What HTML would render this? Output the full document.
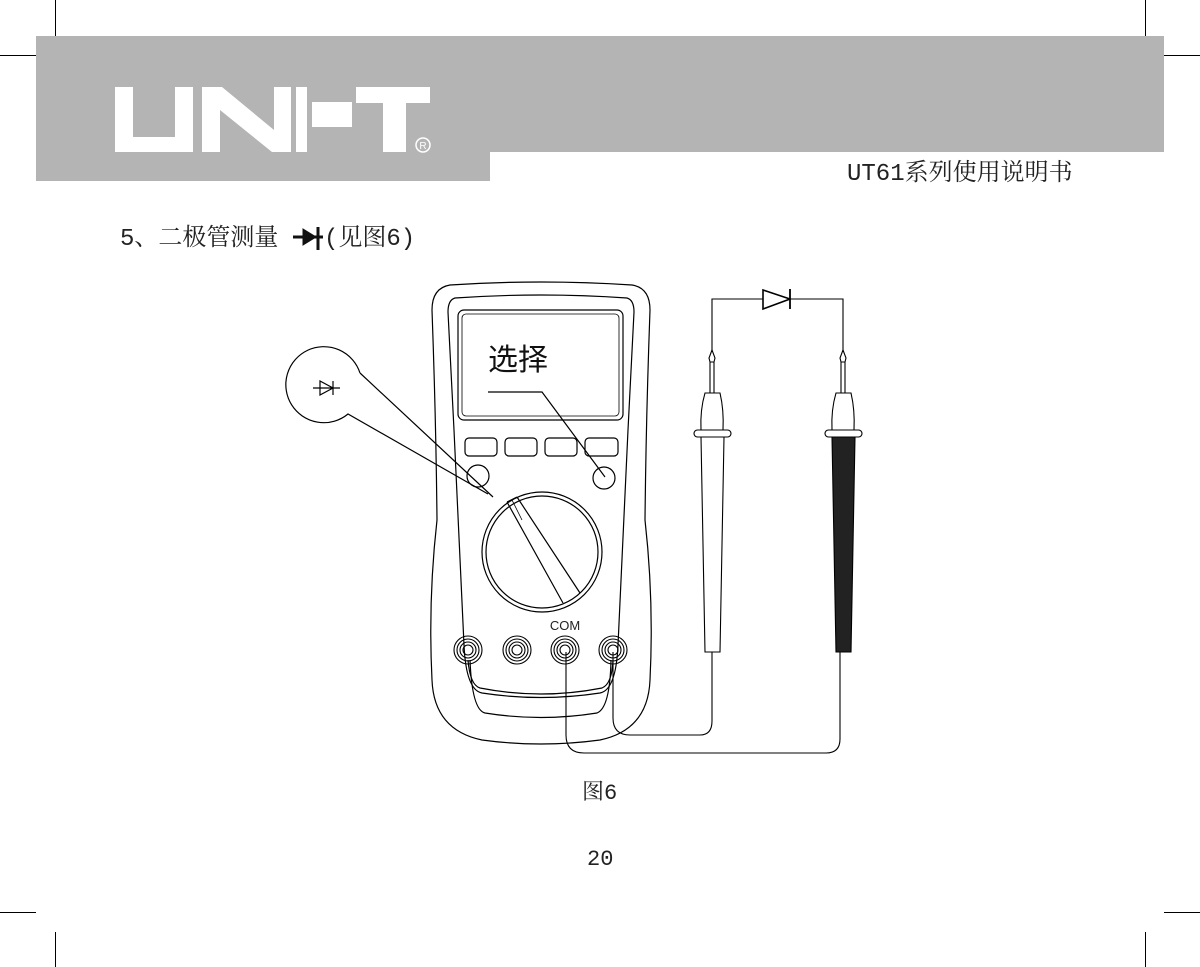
<!DOCTYPE html>
<html><head><meta charset="utf-8"><style>
html,body{margin:0;padding:0;background:#fff;}
.t{position:absolute;font-family:"Liberation Mono","Noto Serif CJK SC",serif;color:#222;white-space:nowrap;line-height:1;}
</style></head><body>
<div style="position:relative;width:1200px;height:967px;overflow:hidden;">
<svg width="1200" height="967" viewBox="0 0 1200 967" style="position:absolute;left:0;top:0">
<g stroke="#000" stroke-width="1" fill="none">
<line x1="55.5" y1="0" x2="55.5" y2="36"/><line x1="0" y1="55.5" x2="36" y2="55.5"/>
<line x1="1145.5" y1="0" x2="1145.5" y2="36"/><line x1="1164" y1="55.5" x2="1200" y2="55.5"/>
<line x1="0" y1="912.5" x2="36" y2="912.5"/><line x1="55.5" y1="932" x2="55.5" y2="967"/>
<line x1="1164" y1="912.5" x2="1200" y2="912.5"/><line x1="1145.5" y1="932" x2="1145.5" y2="967"/>
</g>
<path d="M36 36 H1164 V152 H490 V181 H36 Z" fill="#b4b4b4"/>
<g fill="#fff">
<path d="M115 87 H133 V137 H175 V87 H193 V152 H115 Z"/>
<path d="M202 87 H222 L274 130 V87 H291 V152 H272 L220 110 V152 H202 Z"/>
<rect x="296" y="87" width="11" height="65"/>
<rect x="312" y="102" width="40" height="25"/>
<rect x="356" y="87" width="74" height="16"/>
<rect x="383" y="87" width="23" height="65"/>
<circle cx="423" cy="145" r="7" fill="none" stroke="#fff" stroke-width="1.5"/>
<text x="423" y="149" font-size="10" font-family="Liberation Sans" text-anchor="middle">R</text>
</g>
<g stroke="#111" fill="#111">
<line x1="293" y1="237" x2="323" y2="237" stroke-width="3"/>
<path d="M303 229 L303 245 L316 237 Z"/>
<line x1="318" y1="227" x2="318" y2="250" stroke-width="3"/>
</g>
<g stroke="#000" fill="none" stroke-width="1.2">
<path d="M450 285 Q541 279 632 285 Q650 288 650 310 Q646 420 645 520 Q654 600 650 680 Q648 730 600 740 Q541 748 482 740 Q434 730 432 680 Q428 600 437 520 Q436 420 432 310 Q432 288 450 285 Z"/>
<path d="M455 298 Q541 292 627 298 Q634 300 634 312 L628 430 L618 645 Q616 690 600 693 Q541 702 482 693 Q466 690 464 645 L454 430 L448 312 Q448 300 455 298 Z"/>
<rect x="458" y="310" width="165" height="110" rx="6"/>
<rect x="462" y="314" width="157" height="102" rx="4" stroke-width="0.8"/>
<rect x="465" y="438" width="32" height="18" rx="4"/>
<rect x="505" y="438" width="32" height="18" rx="4"/>
<rect x="545" y="438" width="32" height="18" rx="4"/>
<rect x="585" y="438" width="33" height="18" rx="4"/>
<circle cx="478" cy="476" r="11"/>
<circle cx="604" cy="478" r="11"/>
<circle cx="542" cy="552" r="60"/>
<circle cx="542" cy="552" r="56"/>
<path d="M507 502 L563 603 M517 497 L580 593 M507 502 L517 497"/>
<path d="M512 500 L522 520" stroke-width="0.8"/>
<path d="M488 392 H542 L605 477"/>
<path d="M360 373 A38 38 0 1 0 348 414 L488 494 M360 373 L493 497"/>
<path d="M313 388 H340 M320 381 L320 395 L333 388 Z M333 381 V395"/>
<path d="M468 660 Q470 685 480 688 Q541 700 602 688 Q612 684 613 660"/>
<path d="M470 660 Q472 710 485 713 Q541 722 597 713 Q610 708 611 660"/>
</g>
<g stroke="#000" fill="none" stroke-width="1.1">
<circle cx="468" cy="650" r="14"/><circle cx="468" cy="650" r="11"/><circle cx="468" cy="650" r="8"/><circle cx="468" cy="650" r="5"/>
<circle cx="517" cy="650" r="14"/><circle cx="517" cy="650" r="11"/><circle cx="517" cy="650" r="8"/><circle cx="517" cy="650" r="5"/>
<circle cx="565" cy="650" r="14"/><circle cx="565" cy="650" r="11"/><circle cx="565" cy="650" r="8"/><circle cx="565" cy="650" r="5"/>
<circle cx="613" cy="650" r="14"/><circle cx="613" cy="650" r="11"/><circle cx="613" cy="650" r="8"/><circle cx="613" cy="650" r="5"/>
<path d="M566 652 V735 Q566 753 584 753 H826 Q840 753 840 739 V652"/>
<path d="M613 652 V718 Q613 735 630 735 H700 Q712 735 712 721 V652"/>
<path d="M712 352 V299 H763 M790 299 H843 V352"/>
<path d="M763 290 L763 309 L790 299 Z" stroke-width="1.6"/>
<path d="M790 289 V309" stroke-width="1.8"/>
<path d="M712 350 L709 358 L710 362 H714 L715 358 Z M710 362 V393 M714 362 V393"/>
<path d="M705 393 H720 Q724 410 723 430 H701 Q700 410 705 393 Z"/>
<rect x="694" y="430" width="37" height="7" rx="3.5"/>
<path d="M701 437 H724 L720 652 H705 Z"/>
<path d="M843 350 L840 358 L841 362 H845 L846 358 Z M841 362 V393 M845 362 V393"/>
<path d="M836 393 H851 Q855 410 854 430 H832 Q831 410 836 393 Z"/>
<rect x="825" y="430" width="37" height="7" rx="3.5"/>
<path d="M832 437 H855 L851 652 H836 Z" fill="#222"/>
</g>
<text x="565" y="630" font-family="Liberation Sans" font-size="13" text-anchor="middle" fill="#222">COM</text>
</svg>
<div class="t" style="left:847px;top:163px;font-size:24px;">UT61系列使用说明书</div>
<div class="t" style="left:120px;top:228px;font-size:24px;">5、二极管测量</div>
<div class="t" style="left:324px;top:228px;font-size:24px;">(见图6)</div>
<div class="t" style="left:488px;top:342px;font-size:30px;font-family:'Noto Sans CJK SC',sans-serif;color:#111">选择</div>
<div class="t" style="left:582px;top:783px;font-size:22px;">图6</div>
<div class="t" style="left:587px;top:849px;font-size:22px;">20</div>
</div>
</body></html>
